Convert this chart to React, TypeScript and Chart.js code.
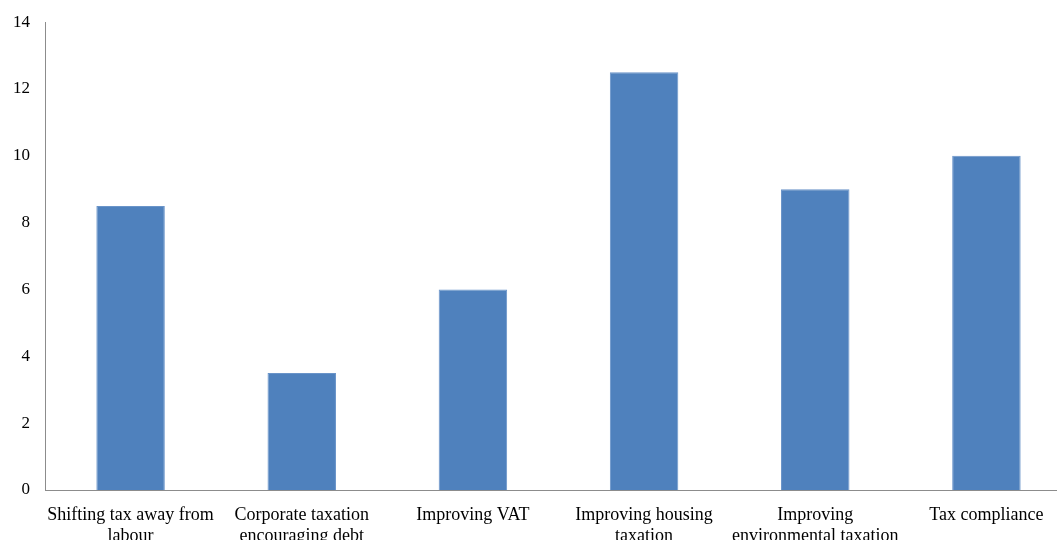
import React, { useEffect, useRef } from "react";
import { Chart, registerables } from "chart.js";

Chart.register(...registerables);

const categories: string[][] = [
  ["Shifting tax away from", "labour"],
  ["Corporate taxation", "encouraging debt"],
  ["Improving VAT"],
  ["Improving housing", "taxation"],
  ["Improving", "environmental taxation"],
  ["Tax compliance"],
];
const values: number[] = [8.5, 3.5, 6, 12.5, 9, 10];

export default function App() {
  const ref = useRef<HTMLCanvasElement | null>(null);
  useEffect(() => {
    if (!ref.current) return;
    const chart = new Chart(ref.current, {
      type: "bar",
      data: {
        labels: categories as any,
        datasets: [
          {
            data: values,
            backgroundColor: "#4F81BD",
            borderColor: "#6A94C9",
            borderWidth: 1,
            categoryPercentage: 1,
            barPercentage: 0.4,
          },
        ],
      },
      options: {
        animation: false,
        responsive: false,
        maintainAspectRatio: false,
        layout: { padding: { top: 19, right: 0, left: 0, bottom: 0 } },
        plugins: { legend: { display: false }, tooltip: { enabled: false } },
        scales: {
          x: {
            grid: { display: false, drawTicks: false },
            border: { display: true, color: "#8c8c8c", width: 1 },
            ticks: {
              color: "#000",
              font: { family: "'Liberation Serif', 'Times New Roman', serif", size: 18, lineHeight: 1.17 },
              padding: 15,
              maxRotation: 0,
              autoSkip: false,
            },
            afterFit: (s: any) => {
              s.height = 57;
            },
          },
          y: {
            min: 0,
            max: 14,
            grid: { display: false, drawTicks: false },
            border: { display: true, color: "#8c8c8c", width: 1 },
            ticks: {
              stepSize: 2,
              color: "#000",
              font: { family: "'Liberation Serif', 'Times New Roman', serif", size: 17 },
              padding: 15,
            },
            afterFit: (s: any) => {
              s.width = 45;
            },
          },
        },
      },
    });
    return () => chart.destroy();
  }, []);
  return (
    <div style={{ position: "absolute", left: 0, top: 0, width: 1057, height: 540, overflow: "hidden", background: "#fff" }}>
      <canvas ref={ref} width={1072} height={550} style={{ display: "block", position: "absolute", left: 0, top: -3 }} />
    </div>
  );
}
